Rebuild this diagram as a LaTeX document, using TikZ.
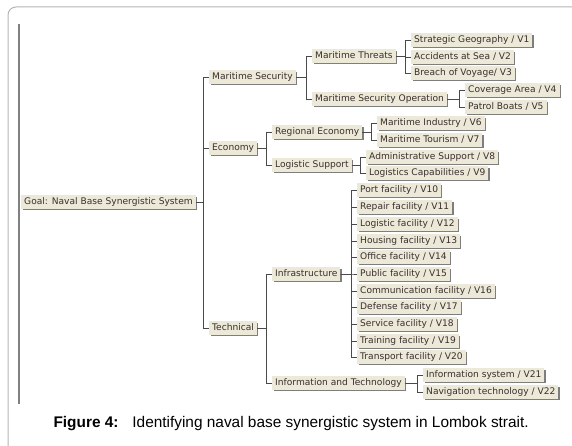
\documentclass[tikz,border=0pt]{standalone}
\usepackage{fontspec}
\setmainfont{DejaVu Sans}
\newfontfamily\capfont{Liberation Sans}
\usepackage{tikz}
\usetikzlibrary{positioning, shadows}
\definecolor{boxbeige}{HTML}{ECE9D8}
\definecolor{boxshade}{HTML}{7E7E7E}
\definecolor{linkgray}{HTML}{4A4A4A}
\definecolor{textbrown}{HTML}{3A2E2E}
\definecolor{framegray}{HTML}{B4B4B4}

\begin{document}
\begin{tikzpicture}[
        x=1pt, y=-1pt,
        item/.style={rectangle, fill=boxbeige, anchor=west, inner xsep=3pt, inner ysep=0pt, minimum height=13.5pt, text height=6.8pt, text depth=1.9pt, text=textbrown, font=\fontsize{9.1}{10}\selectfont, drop shadow={shadow xshift=1.3pt, shadow yshift=-1.3pt, fill=boxshade, opacity=1}},
        link/.style={draw=linkgray, line width=0.9pt}
    ]
        \useasboundingbox (0,0) rectangle (572,446);

        % Frame
        \draw[framegray, line width=1pt, rounded corners=8pt] (590,7) -- (8,7) -- (8,470);
        \draw[gray, line width=1.1pt] (19,24) -- (19,404);

        % Goal and criteria
        \node[item] (goal) at (21,202) {Goal: Naval Base Synergistic System};
        \node[item] (msec) at (209,77) {Maritime Security};
        \node[item] (econ) at (209,148) {Economy};
        \node[item] (tech) at (209,328) {Technical};

        % Sub-criteria
        \node[item] (mthreat) at (312,56) {Maritime Threats};
        \node[item] (msop) at (312,99) {Maritime Security Operation};
        \node[item] (regecon) at (272,132) {Regional Economy};
        \node[item] (logsup) at (272,165) {Logistic Support};
        \node[item] (infra) at (272,274) {Infrastructure};
        \node[item] (infotech) at (272,383) {Information and Technology};

        % Variables
        \node[item] (v1) at (411,40) {Strategic Geography / V1};
        \node[item] (v2) at (411,57) {Accidents at Sea / V2};
        \node[item] (v3) at (411,73) {Breach of Voyage/ V3};
        \node[item] (v4) at (465,90) {Coverage Area / V4};
        \node[item] (v5) at (465,107) {Patrol Boats / V5};
        \node[item] (v6) at (377,123) {Maritime Industry / V6};
        \node[item] (v7) at (377,140) {Maritime Tourism / V7};
        \node[item] (v8) at (366,157) {Administrative Support / V8};
        \node[item] (v9) at (366,173) {Logistics Capabilities / V9};
        \node[item] (v10) at (357,190) {Port facility / V10};
        \node[item] (v11) at (357,207) {Repair facility / V11};
        \node[item] (v12) at (357,224) {Logistic facility / V12};
        \node[item] (v13) at (357,241) {Housing facility / V13};
        \node[item] (v14) at (357,257) {Office facility / V14};
        \node[item] (v15) at (357,274) {Public facility / V15};
        \node[item] (v16) at (357,291) {Communication facility / V16};
        \node[item] (v17) at (357,307) {Defense facility / V17};
        \node[item] (v18) at (357,324) {Service facility / V18};
        \node[item] (v19) at (357,341) {Training facility / V19};
        \node[item] (v20) at (357,357) {Transport facility / V20};
        \node[item] (v21) at (423,375) {Information system / V21};
        \node[item] (v22) at (423,392) {Navigation technology / V22};

        % Links: goal to criteria
        \draw[link] (goal.east) -| ([xshift=-6pt]msec.west) -- (msec.west);
        \draw[link] (goal.east) -| ([xshift=-6pt]econ.west) -- (econ.west);
        \draw[link] (goal.east) -| ([xshift=-6pt]tech.west) -- (tech.west);

        % Links: criteria to sub-criteria
        \draw[link] (msec.east) -| ([xshift=-6pt]mthreat.west) -- (mthreat.west);
        \draw[link] (msec.east) -| ([xshift=-6pt]msop.west) -- (msop.west);
        \draw[link] (econ.east) -| ([xshift=-6pt]regecon.west) -- (regecon.west);
        \draw[link] (econ.east) -| ([xshift=-6pt]logsup.west) -- (logsup.west);
        \draw[link] (tech.east) -| ([xshift=-6pt]infra.west) -- (infra.west);
        \draw[link] (tech.east) -| ([xshift=-6pt]infotech.west) -- (infotech.west);

        % Links: sub-criteria to variables
        \draw[link] (mthreat.east) -| ([xshift=-6pt]v1.west) -- (v1.west);
        \draw[link] (mthreat.east) -| ([xshift=-6pt]v2.west) -- (v2.west);
        \draw[link] (mthreat.east) -| ([xshift=-6pt]v3.west) -- (v3.west);
        \draw[link] (msop.east) -| ([xshift=-6pt]v4.west) -- (v4.west);
        \draw[link] (msop.east) -| ([xshift=-6pt]v5.west) -- (v5.west);
        \draw[link] (regecon.east) -| ([xshift=-6pt]v6.west) -- (v6.west);
        \draw[link] (regecon.east) -| ([xshift=-6pt]v7.west) -- (v7.west);
        \draw[link] (logsup.east) -| ([xshift=-6pt]v8.west) -- (v8.west);
        \draw[link] (logsup.east) -| ([xshift=-6pt]v9.west) -- (v9.west);
        \draw[link] (infra.east) -| ([xshift=-6pt]v10.west) -- (v10.west);
        \draw[link] (infra.east) -| ([xshift=-6pt]v11.west) -- (v11.west);
        \draw[link] (infra.east) -| ([xshift=-6pt]v12.west) -- (v12.west);
        \draw[link] (infra.east) -| ([xshift=-6pt]v13.west) -- (v13.west);
        \draw[link] (infra.east) -| ([xshift=-6pt]v14.west) -- (v14.west);
        \draw[link] (infra.east) -| ([xshift=-6pt]v15.west) -- (v15.west);
        \draw[link] (infra.east) -| ([xshift=-6pt]v16.west) -- (v16.west);
        \draw[link] (infra.east) -| ([xshift=-6pt]v17.west) -- (v17.west);
        \draw[link] (infra.east) -| ([xshift=-6pt]v18.west) -- (v18.west);
        \draw[link] (infra.east) -| ([xshift=-6pt]v19.west) -- (v19.west);
        \draw[link] (infra.east) -| ([xshift=-6pt]v20.west) -- (v20.west);
        \draw[link] (infotech.east) -| ([xshift=-6pt]v21.west) -- (v21.west);
        \draw[link] (infotech.east) -| ([xshift=-6pt]v22.west) -- (v22.west);

        % Caption
        \node[anchor=west, font=\capfont\fontsize{15.4}{18}\selectfont] (caption) at (50,423.5) {\textbf{Figure 4:}\hspace{0.9em}Identifying naval base synergistic system in Lombok strait.};
    \end{tikzpicture}
\end{document}
